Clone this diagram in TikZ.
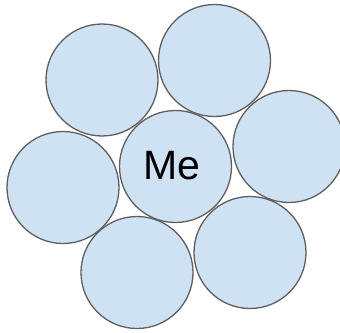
\documentclass[tikz,border=0pt]{standalone}
\usepackage{fontspec}
\setmainfont{Liberation Sans}

\definecolor{ballfill}{HTML}{CFE2F3}
\definecolor{ballline}{HTML}{5F5F5F}

\begin{document}
\begin{tikzpicture}[
      x=1pt, y=-1pt,
      ball/.style={circle, draw=ballline, fill=ballfill, line width=1.3pt, minimum size=112pt, inner sep=0pt},
      lbl/.style={font=\fontsize{41}{48}\selectfont, inner sep=0pt}]

    \useasboundingbox (0,0) rectangle (340,332);

    \node[ball] (topleft) at (102,80) {};
    \node[ball] (top) at (214.5,60.5) {};
    \node[ball] (right) at (289,146.5) {};
    \node[ball] (left) at (63,187.5) {};
    \node[ball] (bottom) at (137,272.5) {};
    \node[ball] (bottomright) at (250,252.5) {};
    \node[ball] (me) at (175.5,166.5) {};
    \node[lbl] (melabel) at ([xshift=-4pt, yshift=1pt]me.center) {Me};
  \end{tikzpicture}
\end{document}
